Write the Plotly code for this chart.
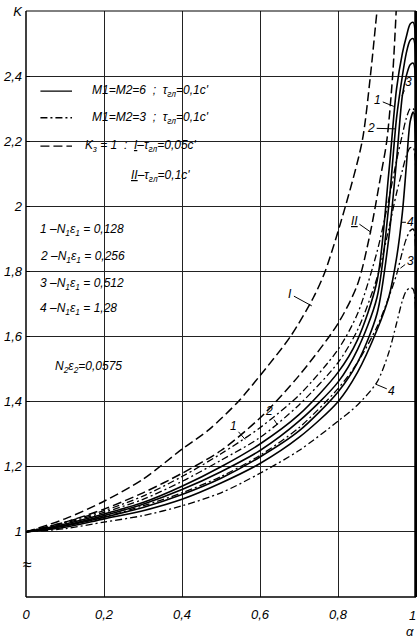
import plotly.graph_objects as go

# ---------------- data ----------------
alpha = [0, 0.1, 0.2, 0.3, 0.4, 0.5, 0.6, 0.7, 0.8, 0.85, 0.9, 0.93, 0.95, 0.965, 0.975, 0.985, 0.993, 1.0]

# solid: M1=M2=6, tau=0.1c'
solid_1 = [1, 1.024, 1.055, 1.09, 1.14, 1.20, 1.27, 1.36, 1.49, 1.59, 1.77, 2.10, 2.36, 2.47, 2.52, 2.56, 2.565, 2.42]
solid_2 = [1, 1.02, 1.05, 1.085, 1.13, 1.185, 1.25, 1.34, 1.46, 1.56, 1.72, 2.00, 2.27, 2.40, 2.47, 2.51, 2.515, 2.37]
solid_3 = [1, 1.018, 1.045, 1.075, 1.115, 1.165, 1.23, 1.31, 1.43, 1.52, 1.67, 1.90, 2.14, 2.34, 2.40, 2.435, 2.44, 2.30]
solid_4 = [1, 1.014, 1.04, 1.065, 1.10, 1.15, 1.21, 1.29, 1.40, 1.49, 1.62, 1.72, 1.84, 1.98, 2.12, 2.26, 2.29, 2.17]

# dash-dot: M1=M2=3, tau=0.1c'
dashdot_1 = [1, 1.03, 1.065, 1.11, 1.17, 1.24, 1.32, 1.42, 1.56, 1.67, 1.86, 2.02, 2.14, 2.22, 2.27, 2.30, 2.30, 2.17]
dashdot_2 = [1, 1.027, 1.06, 1.10, 1.155, 1.22, 1.29, 1.39, 1.52, 1.62, 1.78, 1.93, 2.04, 2.11, 2.155, 2.18, 2.18, 2.05]
dashdot_3 = [1, 1.02, 1.045, 1.08, 1.12, 1.17, 1.235, 1.32, 1.44, 1.52, 1.63, 1.72, 1.79, 1.86, 1.90, 1.925, 1.93, 1.80]
dashdot_4 = [1, 1.01, 1.03, 1.05, 1.08, 1.12, 1.18, 1.25, 1.34, 1.39, 1.46, 1.55, 1.64, 1.71, 1.74, 1.75, 1.745, 1.62]

# dashed: K3 = 1
alpha_I = [0, 0.1, 0.2, 0.3, 0.4, 0.47, 0.544, 0.6, 0.678, 0.737, 0.767, 0.819, 0.862, 0.883, 0.9, 0.905]
dashed_I = [1, 1.04, 1.094, 1.162, 1.254, 1.315, 1.4, 1.48, 1.6, 1.72, 1.8, 2.0, 2.2, 2.4, 2.6, 2.65]
alpha_II = [0, 0.1, 0.2, 0.3, 0.4, 0.5, 0.6, 0.7, 0.8, 0.85, 0.883, 0.909, 0.925, 0.94, 0.95]
dashed_II = [1, 1.03, 1.07, 1.12, 1.18, 1.25, 1.35, 1.48, 1.64, 1.76, 1.92, 2.09, 2.2, 2.4, 2.62]

x_ticks = [0, 0.2, 0.4, 0.6, 0.8, 1.0]
x_ticktext = ["0", "0,2", "0,4", "0,6", "0,8", ""]
x_last_label = "1"
y_ticks = [1.0, 1.2, 1.4, 1.6, 1.8, 2.0, 2.2, 2.4, 2.6]
y_ticktext = ["1", "1,2", "1,4", "1,6", "1,8", "2", "2,2", "2,4", "K"]

FONT = "Liberation Sans"
NB = "\u00a0"

fig = go.Figure()

def add(xs, ys, dash, width):
    fig.add_trace(go.Scatter(x=xs, y=ys, mode="lines",
                             line=dict(color="black", width=width, dash=dash,
                                       shape="spline", smoothing=0.8),
                             hoverinfo="skip", showlegend=False))

for ys in (solid_1, solid_2, solid_3, solid_4):
    add(alpha, ys, "solid", 1.6)
for ys in (dashdot_1, dashdot_2, dashdot_3, dashdot_4):
    add(alpha, ys, "7px,3px,2px,3px", 1.3)
add(alpha_I, dashed_I, "9px,4px", 1.5)
add(alpha_II, dashed_II, "9px,4px", 1.5)

shapes = []
# white areas behind the legend text (hide grid lines)
for (x0, x1, y0, y1) in [(0.003, 0.57, 2.005, 2.395),
                         (0.003, 0.385, 1.61, 1.995),
                         (0.18, 0.22, 1.405, 1.595)]:
    shapes.append(dict(type="rect", xref="x", yref="y", x0=x0, x1=x1, y0=y0, y1=y1,
                       fillcolor="white", line=dict(width=0), layer="below"))
# frame
shapes += [
    dict(type="line", xref="paper", yref="paper", x0=0, x1=0, y0=0, y1=1, line=dict(color="black", width=1.5)),
    dict(type="line", xref="paper", yref="paper", x0=0, x1=1, y0=0, y1=0, line=dict(color="black", width=1.5)),
    dict(type="line", xref="paper", yref="paper", x0=0, x1=1, y0=1, y1=1, line=dict(color="black", width=1)),
    dict(type="line", xref="paper", yref="paper", x0=1, x1=1, y0=0, y1=1, line=dict(color="black", width=3.5)),
]
# legend line samples
for yy, dash in [(2.354, "solid"), (2.272, "7px,3px,2px,3px"), (2.185, "9px,4px")]:
    shapes.append(dict(type="line", xref="x", yref="y", x0=0.037, x1=0.118, y0=yy, y1=yy,
                       line=dict(color="black", width=1.4, dash=dash)))

ann = []
def txt(x, y, t, size=12, xanchor="left"):
    ann.append(dict(x=x, y=y, xref="x", yref="y", text=t, showarrow=False, xanchor=xanchor,
                    font=dict(family=FONT, size=size, color="black", style="italic")))

tau = "τ<sub>гл</sub>"
txt(0.165, 2.354, f"M1=M2=6{NB*2};{NB*2}{tau}=0,1c'")
txt(0.165, 2.272, f"M1=M2=3{NB*2};{NB*2}{tau}=0,1c'")
txt(0.145, 2.185, f"K<sub>з</sub>{NB}={NB}1{NB*2}:{NB*2}<u>I</u>–{tau}=0,05c'")
txt(0.263, 2.094, f"<u>II</u>–{tau}=0,1c'")
txt(0.032, 1.928, f"1{NB}–N<sub>1</sub>ε<sub>1</sub>{NB}={NB}0,128")
txt(0.032, 1.843, f"2{NB}–N<sub>1</sub>ε<sub>1</sub>{NB}={NB}0,256")
txt(0.032, 1.762, f"3{NB}–N<sub>1</sub>ε<sub>1</sub>{NB}={NB}0,512")
txt(0.032, 1.685, f"4{NB}–N<sub>1</sub>ε<sub>1</sub>{NB}={NB}1,28")
txt(0.07, 1.505, "N<sub>2</sub>ε<sub>2</sub>=0,0575")

# curve labels with leader lines: (text, label pos, point on curve)
curve_labels = [
    ("3", (0.981, 2.382), (0.964, 2.34)),
    ("1", (0.902, 2.327), (0.943, 2.307)),
    ("2", (0.885, 2.24), (0.947, 2.238)),
    ("<u>II</u>", (0.842, 1.956), (0.885, 1.92)),
    ("4", (0.987, 1.951), (0.964, 1.951)),
    ("3", (0.985, 1.833), (0.96, 1.81)),
    ("I", (0.678, 1.73), (0.733, 1.694)),
    ("4", (0.938, 1.433), (0.896, 1.454)),
    ("1", (0.532, 1.325), (0.562, 1.284)),
    ("2", (0.622, 1.371), (0.644, 1.33)),
]
for t, (lx, ly), (px, py) in curve_labels:
    ann.append(dict(x=px, y=py, ax=lx, ay=ly, xref="x", yref="y", axref="x", ayref="y",
                    text=t, showarrow=True, arrowhead=0, arrowwidth=1, arrowcolor="black",
                    standoff=0, startstandoff=0,
                    font=dict(family=FONT, size=12, color="black", style="italic")))

# axis break sign, last x tick label and alpha label
ann.append(dict(x=0.003, y=0.9, xref="paper", yref="y", text="≈", showarrow=False,
                xanchor="center", yanchor="middle",
                font=dict(family=FONT, size=16, color="black")))
ann.append(dict(x=1, y=0, xref="paper", yref="paper", text=x_last_label, showarrow=False,
                xanchor="right", yanchor="top", yshift=-9, xshift=2,
                font=dict(family=FONT, size=13, color="black", style="italic")))
ann.append(dict(x=1, y=0, xref="paper", yref="paper", text="α", showarrow=False,
                xanchor="right", yanchor="top", yshift=-25, xshift=0,
                font=dict(family=FONT, size=13, color="black", style="italic")))

fig.update_layout(
    width=417, height=638,
    margin=dict(l=26, r=1, t=11, b=41),
    paper_bgcolor="white", plot_bgcolor="white",
    shapes=shapes, annotations=ann,
    showlegend=False,
    xaxis=dict(range=[0, 1], tickvals=x_ticks, ticktext=x_ticktext,
               showgrid=True, gridcolor="#222", gridwidth=1, zeroline=False,
               showline=False, ticks="", ticklabelstandoff=8, automargin=False,
               tickfont=dict(family=FONT, size=13, color="black", style="italic")),
    yaxis=dict(range=[0.8, 2.6], tickvals=y_ticks, ticktext=y_ticktext,
               showgrid=True, gridcolor="#222", gridwidth=1, zeroline=False,
               showline=False, ticks="inside", ticklen=4, tickcolor="black",
               ticklabelstandoff=3, automargin=False,
               tickfont=dict(family=FONT, size=13, color="black", style="italic")),
)

fig.write_html("out.html", config={"displayModeBar": False},
               post_script="document.body.style.margin='0';document.body.style.overflow='hidden';")
